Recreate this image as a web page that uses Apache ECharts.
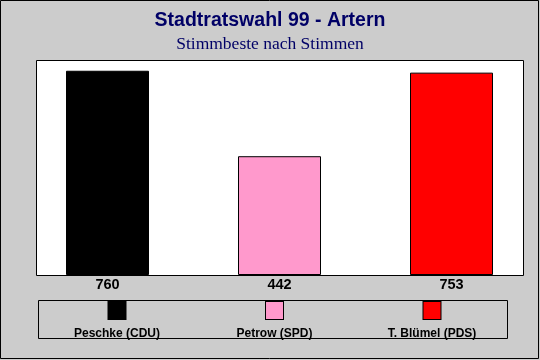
<!DOCTYPE html>
<html>
<head>
<meta charset="utf-8">
<script src="https://cdn.jsdelivr.net/npm/echarts@6/dist/echarts.min.js"></script>
<style>
html,body{margin:0;padding:0;background:#cccccc;}
#c{width:540px;height:360px;}
</style>
</head>
<body>
<div id="c"></div>
<script>
var names = ['Peschke (CDU)', 'Petrow (SPD)', 'T. Blümel (PDS)'];
var values = [760, 442, 753];
var colors = ['#000000', '#ff99cc', '#ff0000'];
var titleText = 'Stadtratswahl 99 - Artern';
var subtitleText = 'Stimmbeste nach Stimmen';

var chart = echarts.init(document.getElementById('c'));
var series = names.map(function (n, i) {
  return {
    name: n,
    type: 'bar',
    stack: 'all',
    barWidth: 83,
    xAxisIndex: 0,
    yAxisIndex: 0,
    itemStyle: { color: colors[i], borderColor: '#000', borderWidth: 1 },
    emphasis: { disabled: true },
    data: values.map(function (v, j) { return j === i ? v : '-'; })
  };
});
var rich = { n: { fontFamily: 'Liberation Sans', fontWeight: 'bold', fontSize: 12, color: '#000', width: 150, align: 'center', lineHeight: 24 } };
colors.forEach(function (c, i) {
  rich['b' + i] = { backgroundColor: c, borderColor: '#000', borderWidth: 1, width: 17, height: 17, align: 'center', lineHeight: 22 };
});
chart.setOption({
  backgroundColor: '#cccccc',
  animation: false,
  title: [
    { text: titleText, left: 'center', top: 6, textStyle: { fontFamily: 'Liberation Sans', fontWeight: 'bold', fontSize: 19.5, color: '#000066' } },
    { text: subtitleText, left: 'center', top: 30, textStyle: { fontFamily: 'Liberation Serif', fontWeight: 'normal', fontSize: 17.5, color: '#000066' } }
  ],
  graphic: [
    { type: 'rect', z: -10, shape: { x: 0.5, y: 0.5, width: 538, height: 358 }, style: { fill: 'none', stroke: '#000', lineWidth: 1 } },
    { type: 'rect', z: -10, shape: { x: 36.5, y: 60.5, width: 487, height: 215 }, style: { fill: '#fff', stroke: '#000', lineWidth: 1 } },
    { type: 'rect', z: -10, shape: { x: 38.5, y: 300.5, width: 469, height: 38 }, style: { fill: 'none', stroke: '#000', lineWidth: 1 } }
  ],
  legend: {
    top: 301,
    left: 36,
    padding: 0,
    itemGap: 1.5,
    itemWidth: 0,
    itemHeight: 0,
    icon: 'rect',
    selectedMode: false,
    data: names,
    formatter: function (name) {
      var i = names.indexOf(name);
      return '{b' + i + '|}\n{n|' + name + '}';
    },
    textStyle: { rich: rich }
  },
  grid: [{ left: 21.5, width: 516, top: 60, height: 215, show: false }],
  xAxis: [{
    type: 'category', gridIndex: 0, data: names,
    axisLine: { show: false }, axisTick: { show: false },
    axisLabel: {
      margin: 2, fontFamily: 'Liberation Sans', fontWeight: 'bold', fontSize: 14.5, color: '#000',
      formatter: function (v, idx) { return String(values[idx]); }
    }
  }],
  yAxis: [{ type: 'value', gridIndex: 0, min: 0, max: 800, show: false, splitLine: { show: false } }],
  series: series
});
</script>
</body>
</html>
